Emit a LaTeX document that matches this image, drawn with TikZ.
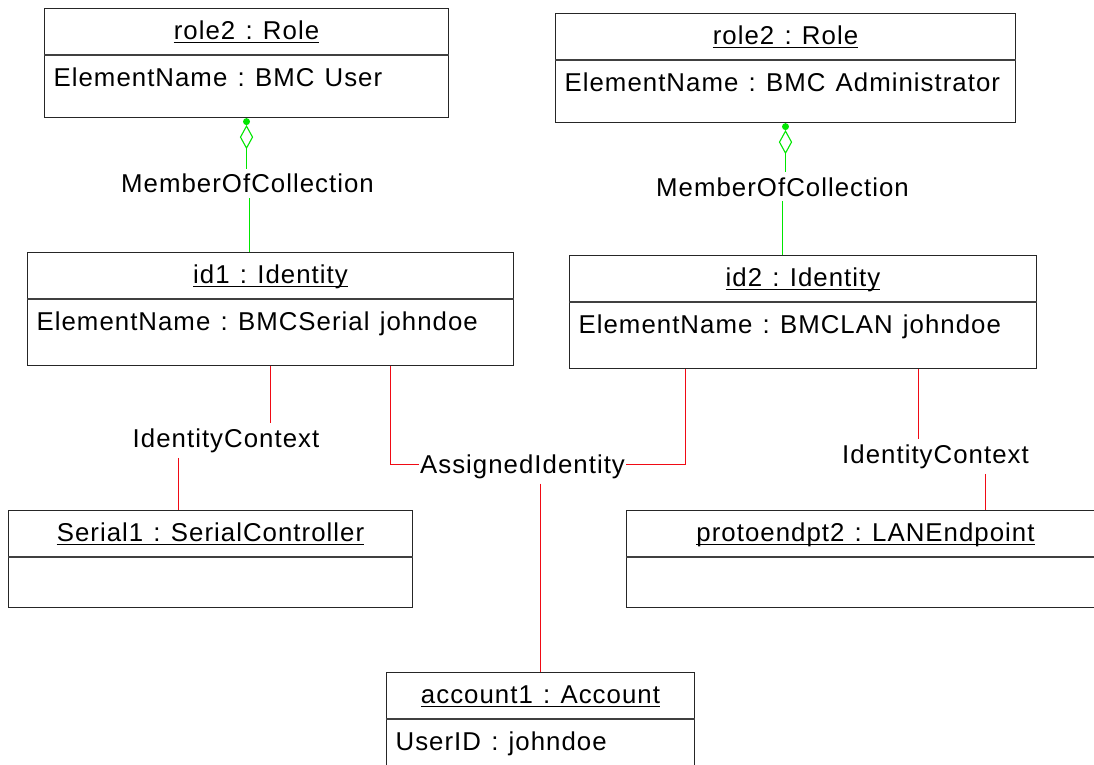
\documentclass[tikz,border=0pt]{standalone}
\usepackage{fontspec}
\setmainfont[LetterSpace=4,WordSpace=1.25]{Liberation Sans}
\usetikzlibrary{calc}
\frenchspacing

\newcommand\umlfont{\fontsize{25.8}{30}\selectfont}
\definecolor{assocred}{RGB}{240,10,20}
\definecolor{assocgreen}{RGB}{0,230,0}

% one UML object: name, centre, width, height, title, attribute
\newcommand\umlobject[6]{%
  \node[objbox, minimum width=#3, minimum height=#4] (#1) at (#2) {};
  \node[txt, anchor=base] (#1-t) at ([yshift=-32pt]#1.north) {#5};
  \draw[uline] ([yshift=-2.5pt]#1-t.base west) -- ([yshift=-2.5pt]#1-t.base east);
  \draw[divider] ([yshift=-47pt]#1.north west) -- ([yshift=-47pt]#1.north east);
  \node[txt, anchor=base west] (#1-a) at ([xshift=9.5pt,yshift=-79pt]#1.north west) {#6};
}

\tikzset{
  objbox/.style={draw=black!85, line width=1.2pt, rectangle, inner sep=0pt},
  divider/.style={draw=black!75, line width=1.2pt},
  uline/.style={draw=black, line width=1.1pt},
  txt/.style={inner sep=0pt, font=\umlfont},
  lbl/.style={inner xsep=1pt, inner ysep=5pt, font=\umlfont},
  assocR/.style={draw=assocred, line width=1.15pt},
  assocG/.style={draw=assocgreen, line width=1.15pt},
}

\begin{document}
\begin{tikzpicture}[x=1pt,y=-1pt]
\useasboundingbox (0,0) rectangle (1094,764);
\clip (0,0) rectangle (1094,764);

% objects
\umlobject{roleA}{246.5,63}{404pt}{109pt}{role2 : Role}{ElementName : BMC User}
\umlobject{roleB}{785.5,68}{460pt}{109pt}{role2 : Role}{ElementName : BMC Administrator}
\umlobject{idA}{270.5,309}{486pt}{113pt}{id1 : Identity}{ElementName : BMCSerial johndoe}
\umlobject{idB}{803,312}{467pt}{113pt}{id2 : Identity}{ElementName : BMCLAN johndoe}
\umlobject{ser}{210.5,559}{404pt}{97pt}{Serial1 : SerialController}{}
\umlobject{lan}{865.5,559}{478pt}{97pt}{protoendpt2 : LANEndpoint}{}
\umlobject{acc}{540.5,727}{308pt}{109pt}{account1 : Account}{UserID : johndoe}

% association labels
\node[lbl, anchor=base] (mocA) at (247.5,192.7) {MemberOfCollection};
\node[lbl, anchor=base] (mocB) at (782.5,196) {MemberOfCollection};
\node[lbl, anchor=base] (icA) at (226,447.3) {IdentityContext};
\node[lbl, anchor=base] (icB) at (935.5,463.3) {IdentityContext};
\node[lbl, anchor=base] (ai) at (522.5,473) {AssignedIdentity};

% MemberOfCollection (aggregation)
\fill[assocgreen] ([yshift=-3.5pt]roleA.south) circle (3.5pt);
\draw[assocG, line width=1.1pt] ([yshift=-8pt]roleA.south) -- ++(6,11) -- ++(-6,11) -- ++(-6,-11) -- cycle;
\draw[assocG] ([yshift=-30pt]roleA.south) -- (roleA.south |- mocA.north);
\coordinate (mocA-s) at ([xshift=2pt]mocA.south);
\draw[assocG] (mocA-s) -- (mocA-s |- idA.north);

\fill[assocgreen] ([yshift=-3.5pt]roleB.south) circle (3.5pt);
\draw[assocG, line width=1.1pt] ([yshift=-8pt]roleB.south) -- ++(6,11) -- ++(-6,11) -- ++(-6,-11) -- cycle;
\draw[assocG] ([yshift=-30pt]roleB.south) -- (roleB.south |- mocB.north);
\draw[assocG] (mocB.south) -- (mocB.south |- idB.north);

% IdentityContext
\draw[assocR] (idA.south) -- (idA.south |- icA.north);
\coordinate (icA-s) at ([xshift=-47.5pt]icA.south);
\draw[assocR] (icA-s) -- (icA-s |- ser.north);

\coordinate (idB-ic) at ([xshift=350pt]idB.south west);
\draw[assocR] (idB-ic) -- (idB-ic |- icB.north);
\coordinate (icB-s) at ([xshift=50pt]icB.south);
\draw[assocR] (icB-s) -- (icB-s |- lan.north);

% AssignedIdentity
\coordinate (idA-ai) at ([xshift=364pt]idA.south west);
\coordinate (idB-ai) at ([xshift=117pt]idB.south west);
\draw[assocR] (idA-ai) |- ([yshift=2pt]ai.west);
\draw[assocR] (idB-ai) |- ([yshift=2pt]ai.east);
\draw[assocR] (ai.south -| acc.north) -- (acc.north);
\end{tikzpicture}
\end{document}
